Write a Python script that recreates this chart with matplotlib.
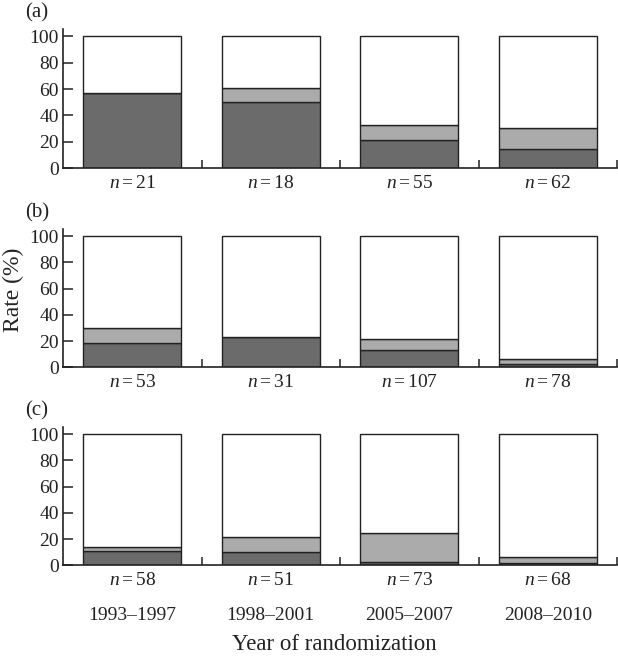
import matplotlib
matplotlib.use("Agg")
import matplotlib.pyplot as plt
import matplotlib.transforms as mtransforms
import numpy as np

plt.rcParams['font.family'] = ['Liberation Serif', 'DejaVu Serif']
plt.rcParams['mathtext.fontset'] = 'custom'
plt.rcParams['mathtext.rm'] = 'Liberation Serif'
plt.rcParams['mathtext.it'] = 'Liberation Serif:italic'

periods = ["1993\u20131997", "1998\u20132001", "2005\u20132007", "2008\u20132010"]
panel_labels = ["(a)", "(b)", "(c)"]

# dark (bottom) segment, light (middle) segment, in %
dark_a = [57.1, 50.0, 21.8, 14.5]
light_a = [0.0, 11.1, 10.9, 16.1]
n_a = [21, 18, 55, 62]

dark_b = [18.9, 23.3, 13.1, 2.6]
light_b = [11.3, 0.0, 8.4, 3.9]
n_b = [53, 31, 107, 78]

dark_c = [11.0, 9.8, 2.7, 2.0]
light_c = [2.9, 11.8, 21.9, 4.5]
n_c = [58, 51, 73, 68]

darks = [dark_a, dark_b, dark_c]
lights = [light_a, light_b, light_c]
ns = [n_a, n_b, n_c]

DARK = "#6b6b6b"
LIGHT = "#ababab"
EDGE = "#222222"

W, H = 618, 658
fig = plt.figure(figsize=(W / 100, H / 100), dpi=100)

left = 63 / W
width = (617 - 63) / W
tops = [29, 229, 427]
bottoms = [168.3, 367.3, 565.3]

x = np.arange(len(periods)) + 0.5
fs = 14

for i in range(3):
    b = (H - bottoms[i]) / H
    t = (H - tops[i]) / H
    ax = fig.add_axes([left, b, width, t - b])
    d = np.array(darks[i])
    l = np.array(lights[i])
    rest = 100 - d - l
    kw = dict(width=0.71, edgecolor=EDGE, linewidth=1.0)
    ax.bar(x, d, color=DARK, **kw)
    ax.bar(x, l, bottom=d, color=LIGHT, **kw)
    ax.bar(x, rest, bottom=d + l, color="white", **kw)
    ax.set_xlim(0, 4)
    ax.set_ylim(0, 105.5)
    ax.spines['top'].set_visible(False)
    ax.spines['right'].set_visible(False)
    for s in ['left', 'bottom']:
        ax.spines[s].set_linewidth(1.2)
        ax.spines[s].set_color(EDGE)
    ax.set_yticks([0, 20, 40, 60, 80, 100])
    ax.tick_params(axis='y', direction='in', length=7, width=1.1,
                   labelsize=fs, pad=3, colors=EDGE)
    ax.set_xticks([1, 2, 3, 4])
    ax.set_xticklabels([])
    ax.tick_params(axis='x', direction='in', length=6, width=1.1, colors=EDGE)
    trans = mtransforms.blended_transform_factory(ax.transData, ax.transAxes)
    for xi, nv in zip(x, ns[i]):
        ax.annotate(r"$n = %d$" % nv, xy=(xi, 0), xycoords=trans,
                    xytext=(0, -15), textcoords='offset pixels',
                    ha='center', va='center', fontsize=fs, color=EDGE)
    fig.text(25 / W, 1 - (tops[i] - 16) / H, panel_labels[i], fontsize=fs + 1,
             ha='left', va='center', color=EDGE)
    if i == 2:
        for xi, p in zip(x, periods):
            ax.annotate(p, xy=(xi, 0), xycoords=trans,
                        xytext=(0, -50), textcoords='offset pixels',
                        ha='center', va='center', fontsize=fs, color=EDGE)

fig.text((63 + 617) / 2 / W - 0.01, 1 - 645 / H, "Year of randomization",
         fontsize=fs + 2.5, ha='center', va='center', color=EDGE)
fig.text(13 / W, 1 - 290 / H, "Rate (%)", fontsize=fs + 3, rotation=90,
         ha='center', va='center', color=EDGE)

fig.savefig("out.png", dpi=100)
